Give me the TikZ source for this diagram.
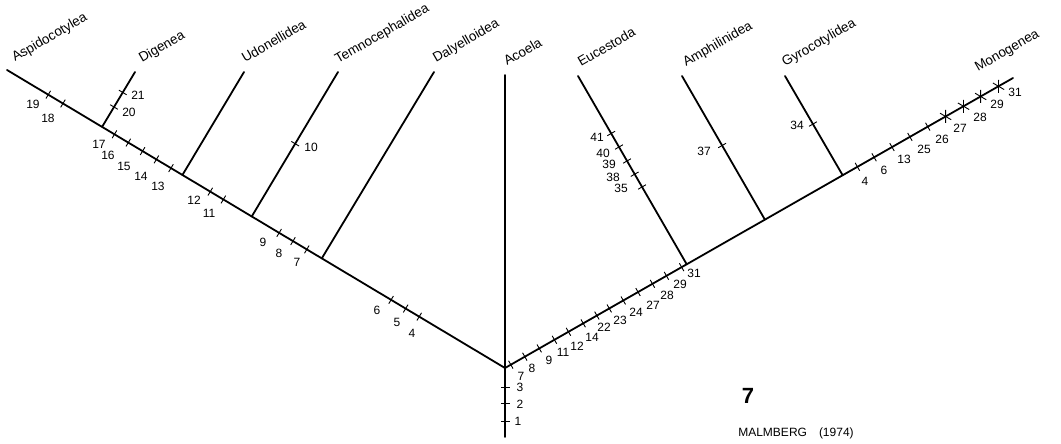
\documentclass[tikz,border=0pt]{standalone}
\usepackage{fontspec}
\setmainfont{Liberation Sans}
\usetikzlibrary{calc}
\tikzset{
  branch/.style={line width=1.8pt, line cap=round},
  tickline/.style={line width=0.9pt},
  num/.style={font=\fontsize{12}{12}\selectfont, inner sep=0pt},
  taxon/.style={font=\fontsize{13.5}{13.5}\selectfont, rotate=30, anchor=base west, inner sep=0pt},
}
% tick: #1 line start, #2 line end, #3 approximate point, #4 name
\newcommand{\tk}[4]{%
  \coordinate (#4) at ($(#1)!(#3)!(#2)$);
  \draw[tickline] ($(#4)!4.5pt!90:(#2)$) -- ($(#4)!4.5pt!-90:(#2)$);}
% asterisk mark
\newcommand{\xk}[4]{%
  \coordinate (#4) at ($(#1)!(#3)!(#2)$);
  \draw[tickline] ($(#4)!6.5pt!60:(#2)$) -- ($(#4)!6.5pt!240:(#2)$);
  \draw[tickline] ($(#4)!6.5pt!120:(#2)$) -- ($(#4)!6.5pt!300:(#2)$);}
\begin{document}
\begin{tikzpicture}[x=1pt,y=1pt]
\useasboundingbox[fill=white] (0,0) rectangle (1061,-444);
% main points
\coordinate (R) at (505,-368);
\coordinate (L) at (7,-70);
\coordinate (M) at (1013,-78);
\coordinate (A) at (505,-75);
\coordinate (B) at (505,-437);
% junctions on left line
\coordinate (jDi) at ($(R)!(102,-127)!(L)$);
\coordinate (jUd) at ($(R)!(183,-174)!(L)$);
\coordinate (jTe) at ($(R)!(252,-216)!(L)$);
\coordinate (jDa) at ($(R)!(322,-258)!(L)$);
% junctions on right line
\coordinate (jEu) at ($(R)!(686,-263)!(M)$);
\coordinate (jAm) at ($(R)!(764,-218)!(M)$);
\coordinate (jGy) at ($(R)!(842,-174)!(M)$);
% tops
\coordinate (tDi) at (135,-72);
\coordinate (tUd) at (244,-72);
\coordinate (tTe) at (338,-72);
\coordinate (tDa) at (434,-72);
\coordinate (tEu) at (578,-76);
\coordinate (tAm) at (682,-76);
\coordinate (tGy) at (785,-76);
% branches
\draw[branch] (L) -- (R) -- (M);
\draw[branch] (A) -- (B);
\draw[branch] (jDi) -- (tDi);
\draw[branch] (jUd) -- (tUd);
\draw[branch] (jTe) -- (tTe);
\draw[branch] (jDa) -- (tDa);
\draw[branch] (jEu) -- (tEu);
\draw[branch] (jAm) -- (tAm);
\draw[branch] (jGy) -- (tGy);
% taxon names
\node[taxon] (nAs) at (15,-62) {Aspidocotylea};
\node[taxon] (nDi) at (142,-63) {Digenea};
\node[taxon] (nUd) at (245,-63) {Udonellidea};
\node[taxon] (nTe) at (338,-64) {Temnocephalidea};
\node[taxon] (nDa) at (436,-63) {Dalyelloidea};
\node[taxon] (nAc) at (507,-66) {Acoela};
\node[taxon] (nEu) at (581,-67) {Eucestoda};
\node[taxon] (nAm) at (686,-67) {Amphilinidea};
\node[taxon] (nGy) at (785,-67) {Gyrocotylidea};
\node[taxon] (nMo) at (978,-72) {Monogenea};
% left line ticks
\tk{R}{L}{48,-95}{l19}   \node[num] (ln19) at (33,-104) {19};
\tk{R}{L}{62,-105}{l18}  \node[num] (ln18) at (48,-118) {18};
\tk{R}{L}{114,-135}{l17} \node[num] (ln17) at (99,-144) {17};
\tk{R}{L}{128,-143}{l16} \node[num] (ln16) at (108,-155) {16};
\tk{R}{L}{142,-152}{l15} \node[num] (ln15) at (124,-166) {15};
\tk{R}{L}{156,-160}{l14} \node[num] (ln14) at (141,-176) {14};
\tk{R}{L}{171,-168}{l13} \node[num] (ln13) at (158,-186) {13};
\tk{R}{L}{210,-192}{l12} \node[num] (ln12) at (194,-200) {12};
\tk{R}{L}{223,-200}{l11} \node[num] (ln11) at (209,-213) {11};
\tk{R}{L}{279,-233}{l9}  \node[num] (ln9) at (263,-242) {9};
\tk{R}{L}{293,-241}{l8}  \node[num] (ln8) at (279,-253) {8};
\tk{R}{L}{307,-249}{l7}  \node[num] (ln7) at (297,-262) {7};
\tk{R}{L}{391,-300}{l6}  \node[num] (ln6) at (377,-310) {6};
\tk{R}{L}{406,-308}{l5}  \node[num] (ln5) at (397,-322) {5};
\tk{R}{L}{419,-317}{l4}  \node[num] (ln4) at (412,-333) {4};
% Digenea and Temnocephalidea ticks
\tk{jDi}{tDi}{122,-92}{d21}  \node[num] (dn21) at (138,-95) {21};
\tk{jDi}{tDi}{114,-107}{d20} \node[num] (dn20) at (129,-112) {20};
\tk{jTe}{tTe}{294,-143}{t10} \node[num] (tn10) at (311,-147) {10};
% stem ticks
\tk{R}{B}{505,-387}{s3} \node[num] (sn3) at (520,-387) {3};
\tk{R}{B}{505,-403}{s2} \node[num] (sn2) at (520,-404) {2};
\tk{R}{B}{505,-421}{s1} \node[num] (sn1) at (518,-421) {1};
% right line ticks
\tk{R}{M}{511,-365}{r7}  \node[num] (rn7) at (521,-376) {7};
\tk{R}{M}{525,-357}{r8}  \node[num] (rn8) at (532,-368) {8};
\tk{R}{M}{539,-348}{r9}  \node[num] (rn9) at (549,-360) {9};
\tk{R}{M}{554,-339}{r11} \node[num] (rn11) at (563,-352) {11};
\tk{R}{M}{568,-331}{r12} \node[num] (rn12) at (577,-346) {12};
\tk{R}{M}{583,-323}{r14} \node[num] (rn14) at (592,-337) {14};
\tk{R}{M}{596,-314}{r22} \node[num] (rn22) at (604,-327) {22};
\tk{R}{M}{609,-308}{r23} \node[num] (rn23) at (620,-320) {23};
\tk{R}{M}{623,-300}{r24} \node[num] (rn24) at (636,-312) {24};
\tk{R}{M}{638,-292}{r27} \node[num] (rn27) at (653,-305) {27};
\tk{R}{M}{652,-283}{r28} \node[num] (rn28) at (667,-295) {28};
\tk{R}{M}{666,-275}{r29} \node[num] (rn29) at (680,-284) {29};
\tk{R}{M}{681,-266}{r31} \node[num] (rn31) at (694,-273) {31};
% Eucestoda ticks
\tk{jEu}{tEu}{612,-133}{e41} \node[num] (en41) at (597,-137) {41};
\tk{jEu}{tEu}{619,-147}{e40} \node[num] (en40) at (603,-153) {40};
\tk{jEu}{tEu}{627,-161}{e39} \node[num] (en39) at (609,-164) {39};
\tk{jEu}{tEu}{635,-174}{e38} \node[num] (en38) at (613,-177) {38};
\tk{jEu}{tEu}{642,-187}{e35} \node[num] (en35) at (621,-188) {35};
% Amphilinidea and Gyrocotylidea ticks
\tk{jAm}{tAm}{723,-145}{a37} \node[num] (an37) at (704,-151) {37};
\tk{jGy}{tGy}{813,-124}{g34} \node[num] (gn34) at (797,-125) {34};
% Monogenea line ticks
\tk{R}{M}{857,-166}{m4}  \node[num] (mn4) at (865,-181) {4};
\tk{R}{M}{874,-157}{m6}  \node[num] (mn6) at (884,-170) {6};
\tk{R}{M}{892,-147}{m13} \node[num] (mn13) at (904,-159) {13};
\tk{R}{M}{910,-137}{m25} \node[num] (mn25) at (924,-149) {25};
\tk{R}{M}{928,-127}{m26} \node[num] (mn26) at (942,-139) {26};
\xk{R}{M}{946,-117}{m27} \node[num] (mn27) at (960,-128) {27};
\xk{R}{M}{964,-107}{m28} \node[num] (mn28) at (980,-117) {28};
\xk{R}{M}{981,-97}{m29}  \node[num] (mn29) at (997,-104) {29};
\xk{R}{M}{999,-87}{m31}  \node[num] (mn31) at (1015,-92) {31};
% figure number and credit
\node[font=\bfseries\fontsize{22}{22}\selectfont, inner sep=0pt] (fig) at (748,-396) {7};
\node[font=\fontsize{12}{12}\selectfont, inner sep=0pt] (cred) at (796,-433) {MALMBERG\quad(1974)};
\end{tikzpicture}
\end{document}
